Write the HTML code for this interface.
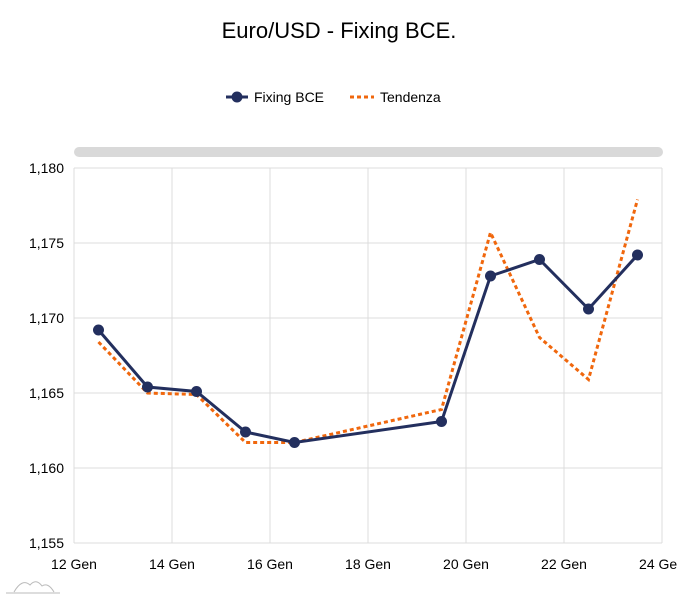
<!DOCTYPE html>
<html><head><meta charset="utf-8"><style>
body{margin:0;background:#fff;font-family:"Liberation Sans",sans-serif;}
svg text{font-family:"Liberation Sans",sans-serif;}
</style></head><body>
<svg id="c" width="678" height="600">
<text x="339" y="38" text-anchor="middle" font-size="22" fill="#000">Euro/USD - Fixing BCE.</text>
<g>
 <g>
  <line x1="226" y1="97" x2="248" y2="97" stroke="#232f5e" stroke-width="3"/>
  <circle cx="237" cy="97" r="5.5" fill="#232f5e"/>
  <text x="254" y="102" font-size="14" fill="#000">Fixing BCE</text>
 </g>
 <g>
  <line x1="350" y1="97" x2="374" y2="97" stroke="#f0670d" stroke-width="3" stroke-dasharray="4,3"/>
  <text x="380" y="102" font-size="14" fill="#000">Tendenza</text>
 </g>
</g>
<rect x="74" y="147" width="589" height="10" rx="5" fill="#d9d9d9"/>
<g id="grid"></g><g id="axes"></g><g id="series"></g>
<g fill="none" stroke="#bbb" stroke-width="1">
 <path d="M6 593 H60 M14 592 Q22 578 30 585 Q36 578 42 586 Q48 582 54 592"/>
</g>
</svg>
<script>
const days=[12.5,13.5,14.5,15.5,16.5,19.5,20.5,21.5,22.5,23.5];
const fixing=[1.1692,1.1654,1.1651,1.1624,1.1617,1.1631,1.1728,1.1739,1.1706,1.1742];
const tendenza=[1.1684,1.1650,1.1649,1.1617,1.1617,1.1639,1.1757,1.1687,1.1659,1.1779];
const yTicks=[1.155,1.160,1.165,1.170,1.175,1.180];
const yLabels=["1,155","1,160","1,165","1,170","1,175","1,180"];
const xTicks=[12,14,16,18,20,22,24];
const xLabels=["12 Gen","14 Gen","16 Gen","18 Gen","20 Gen","22 Gen","24 Gen"];
const L=74,R=662,T=168,B=543;
const X=d=>L+(d-12)/12*(R-L);
const Y=v=>B-(v-1.155)/0.025*(B-T);
const NS="http://www.w3.org/2000/svg";
function mk(p,tag,a){const e=document.createElementNS(NS,tag);for(const k in a)e.setAttribute(k,a[k]);p.appendChild(e);return e;}
const grid=document.getElementById('grid'),axes=document.getElementById('axes'),ser=document.getElementById('series');
yTicks.forEach((v,i)=>{
 const l=mk(grid,'line',{x1:L,x2:R,y1:Y(v),y2:Y(v),stroke:'#dcdcdc'});
 
 
 const t=mk(axes,'text',{x:L-10,y:Y(v)+5,'text-anchor':'end','font-size':14,fill:'#000'});t.textContent=yLabels[i];
 
 
});
xTicks.forEach((d,i)=>{
 const l=mk(grid,'line',{x1:X(d),x2:X(d),y1:T,y2:B,stroke:'#dcdcdc'});
 
 
 const t=mk(axes,'text',{x:X(d),y:B+26,'text-anchor':'middle','font-size':14,fill:'#000'});t.textContent=xLabels[i];
 
 
});
const pf=fixing.map((v,i)=>X(days[i])+','+Y(v)).join(' ');
const pt=tendenza.map((v,i)=>X(days[i])+','+Y(v)).join(' ');
const lt=mk(ser,'polyline',{points:pt,fill:'none',stroke:'#f0670d','stroke-width':3,'stroke-dasharray':'4,3'});


const lf=mk(ser,'polyline',{points:pf,fill:'none',stroke:'#232f5e','stroke-width':3});


fixing.forEach((v,i)=>{
 const c=mk(ser,'circle',{cx:X(days[i]),cy:Y(v),r:5.5,fill:'#232f5e'});
 
 
});
</script>
</body></html>
